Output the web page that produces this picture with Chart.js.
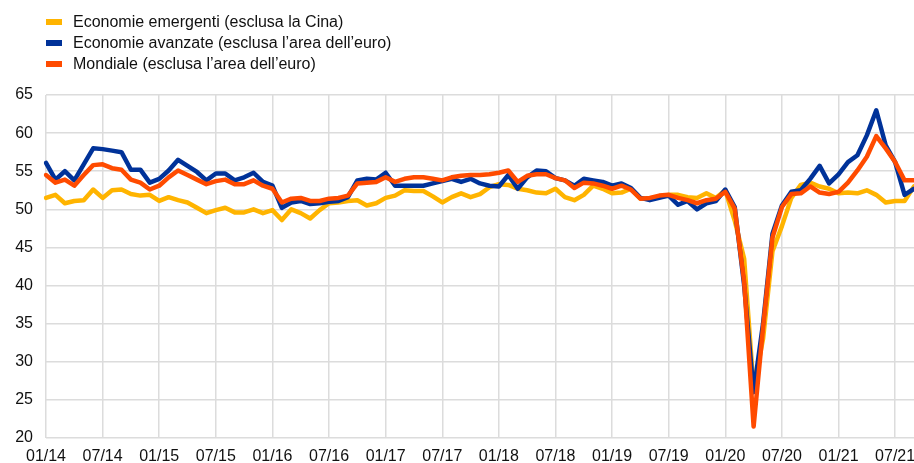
<!DOCTYPE html>
<html>
<head>
<meta charset="utf-8">
<script src="https://cdn.jsdelivr.net/npm/chart.js@4/dist/chart.umd.min.js"></script>
<style>
  html, body { margin: 0; padding: 0; background: #ffffff; }
  #wrap { position: relative; width: 914px; height: 463px; }
</style>
</head>
<body>
<div id="wrap"><canvas id="c"></canvas></div>
<script>
// Categories: monthly, 01/14 .. 09/21
const months = [
  '01/14','02/14','03/14','04/14','05/14','06/14','07/14','08/14','09/14','10/14','11/14','12/14',
  '01/15','02/15','03/15','04/15','05/15','06/15','07/15','08/15','09/15','10/15','11/15','12/15',
  '01/16','02/16','03/16','04/16','05/16','06/16','07/16','08/16','09/16','10/16','11/16','12/16',
  '01/17','02/17','03/17','04/17','05/17','06/17','07/17','08/17','09/17','10/17','11/17','12/17',
  '01/18','02/18','03/18','04/18','05/18','06/18','07/18','08/18','09/18','10/18','11/18','12/18',
  '01/19','02/19','03/19','04/19','05/19','06/19','07/19','08/19','09/19','10/19','11/19','12/19',
  '01/20','02/20','03/20','04/20','05/20','06/20','07/20','08/20','09/20','10/20','11/20','12/20',
  '01/21','02/21','03/21','04/21','05/21','06/21','07/21','08/21','09/21'
];

// Tick labels shown on the x axis
const tickLabels = ['01/14','07/14','01/15','07/15','01/16','07/16','01/17','07/17',
  '01/18','07/18','01/19','07/19','01/20','07/20','01/21','07/21'];

// Series names
const seriesNames = [
  'Economie emergenti (esclusa la Cina)',
  'Economie avanzate (esclusa l\u2019area dell\u2019euro)',
  'Mondiale (esclusa l\u2019area dell\u2019euro)'
];

// Economie emergenti (esclusa la Cina)
const emerging = [
  51.5, 51.9, 50.8, 51.1, 51.2, 52.6, 51.5, 52.5, 52.6, 52.0, 51.8, 51.9,
  51.1, 51.6, 51.2, 50.9, 50.2, 49.5, 49.9, 50.2, 49.6, 49.6, 50.0, 49.5,
  49.9, 48.6, 50.0, 49.5, 48.8, 49.9, 50.8, 50.9, 51.1, 51.2, 50.5, 50.8,
  51.5, 51.8, 52.5, 52.4, 52.4, 51.7, 50.9, 51.6, 52.1, 51.6, 52.0, 52.9,
  53.3, 53.2, 52.7, 52.5, 52.2, 52.1, 52.7, 51.6, 51.2, 51.9, 53.1, 52.7,
  52.1, 52.2, 52.7, 51.4, 51.4, 51.7, 51.9, 51.9, 51.6, 51.5, 52.1, 51.5,
  52.5, 48.5, 43.5, 26.5, 33.0, 44.5, 47.8, 51.5, 53.2, 53.5, 53.0, 52.7,
  52.1, 52.2, 52.1, 52.5, 51.9, 50.9, 51.1, 51.1, 53.0
];

// Economie avanzate (esclusa l'area dell'euro)
const advanced = [
  56.1, 53.9, 55.0, 53.8, 55.9, 58.0, 57.9, 57.7, 57.5, 55.2, 55.2, 53.5,
  54.0, 55.1, 56.5, 55.7, 54.9, 53.8, 54.7, 54.7, 53.8, 54.2, 54.8, 53.6,
  53.1, 50.2, 50.9, 51.1, 50.7, 50.8, 51.0, 51.1, 51.6, 53.8, 54.0, 53.9,
  54.8, 53.1, 53.1, 53.1, 53.1, 53.4, 53.7, 54.0, 53.6, 54.0, 53.4, 53.1,
  53.0, 54.5, 52.7, 54.2, 55.1, 55.0, 54.1, 53.8, 53.1, 54.0, 53.8, 53.6,
  53.1, 53.4, 52.8, 51.5, 51.2, 51.5, 51.8, 50.6, 51.1, 50.0, 50.8, 51.1,
  52.6, 50.3, 40.0, 26.0, 35.0, 46.8, 50.5, 52.3, 52.5, 54.0, 55.7, 53.4,
  54.6, 56.2, 57.1, 59.7, 63.0, 58.4, 56.2, 51.9, 52.7
];

// Mondiale (esclusa l'area dell'euro)
const world = [
  54.5, 53.5, 53.9, 53.1, 54.5, 55.8, 55.9, 55.4, 55.2, 53.9, 53.5, 52.6,
  53.1, 54.2, 55.1, 54.5, 53.9, 53.3, 53.7, 53.9, 53.3, 53.3, 53.8, 53.1,
  52.7, 50.9, 51.4, 51.5, 51.1, 51.1, 51.4, 51.5, 51.8, 53.4, 53.5, 53.6,
  54.2, 53.6, 54.0, 54.2, 54.2, 54.0, 53.8, 54.2, 54.4, 54.5, 54.5, 54.6,
  54.8, 55.1, 53.6, 54.4, 54.6, 54.6, 54.1, 53.8, 52.8, 53.5, 53.4, 53.1,
  52.7, 53.1, 52.6, 51.4, 51.5, 51.8, 51.9, 51.5, 51.2, 50.8, 51.2, 51.4,
  52.3, 50.1, 40.5, 21.5, 34.5, 46.3, 50.3, 52.0, 52.1, 53.0, 52.2, 52.0,
  52.3, 53.5, 55.1, 56.9, 59.6, 58.0, 56.2, 53.8, 53.8
];

const colors = ['#FFB400', '#003299', '#FF4B00'];
const FONT = '"Liberation Sans", Arial, Helvetica, sans-serif';
const TXT = '#111111';

const legendPlugin = {
  id: 'vlegend',
  afterDraw(chart) {
    const ctx = chart.ctx;
    ctx.save();
    ctx.font = '16px ' + FONT;
    ctx.textBaseline = 'middle';
    ctx.textAlign = 'left';
    const rows = [22, 43, 64];
    seriesNames.forEach((name, i) => {
      ctx.fillStyle = colors[i];
      ctx.fillRect(46, rows[i] - 3, 16, 6);
      ctx.fillStyle = TXT;
      ctx.fillText(name, 73, rows[i] + 1);
    });
    ctx.restore();
  }
};

const mk = (label, data, color, order) => ({
  label, data,
  borderColor: color,
  backgroundColor: color,
  borderWidth: 4.5,
  pointRadius: 0,
  tension: 0,
  borderJoinStyle: 'round',
  borderCapStyle: 'round',
  fill: false,
  order
});

new Chart(document.getElementById('c'), {
  type: 'line',
  data: {
    labels: months,
    datasets: [
      mk(seriesNames[0], emerging, colors[0], 3),
      mk(seriesNames[1], advanced, colors[1], 2),
      mk(seriesNames[2], world, colors[2], 1)
    ]
  },
  options: {
    responsive: true,
    maintainAspectRatio: false,
    animation: false,
    devicePixelRatio: 1,
    layout: { padding: { top: 95, right: 0, left: 0, bottom: 0 } },
    plugins: {
      legend: { display: false },
      tooltip: { enabled: false }
    },
    scales: {
      x: {
        type: 'category',
        offset: false,
        border: { display: false },
        grid: { color: '#dcdcdc', lineWidth: 1.5, drawTicks: false },
        ticks: {
          autoSkip: false,
          maxRotation: 0,
          minRotation: 0,
          padding: 9,
          color: TXT,
          font: { family: FONT, size: 16 },
          callback: function (v, i) {
            const l = months[i];
            return tickLabels.includes(l) ? l : null;
          }
        },
        afterFit: (s) => { s.height = 25; s.paddingLeft = 0; s.paddingRight = 0; }
      },
      y: {
        min: 20,
        max: 65,
        border: { display: false },
        grid: { color: '#dcdcdc', lineWidth: 1.5, drawTicks: false },
        ticks: {
          stepSize: 5,
          padding: 13,
          color: TXT,
          font: { family: FONT, size: 16 }
        },
        afterFit: (s) => { s.width = 46; }
      }
    }
  },
  plugins: [legendPlugin]
});
</script>
</body>
</html>
